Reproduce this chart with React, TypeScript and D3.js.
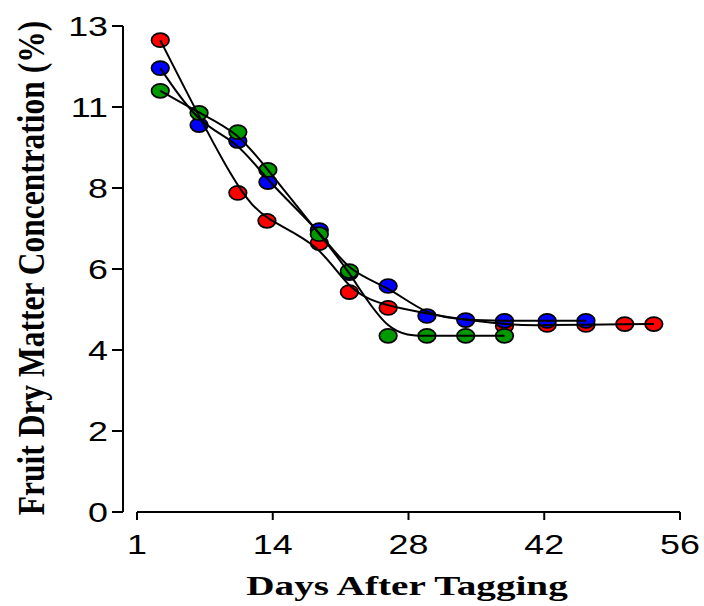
import React from "react";
import * as d3 from "d3";

const xTickValues = [0, 14, 28, 42, 56];
const xTickLabels = ["1", "14", "28", "42", "56"];
const yTickValues = [0, 2, 4, 6, 8, 11, 13];
const yTickLabels = ["0", "2", "4", "6", "8", "11", "13"];

const redDays = [2.4, 10.4, 13.4, 18.8, 21.9, 25.9, 37.9, 42.3, 46.3, 50.3, 53.3];
const redValues = [12.65, 7.88, 7.19, 6.64, 5.43, 5.04, 4.59, 4.62, 4.62, 4.64, 4.64];
const blueDays = [2.4, 6.4, 10.4, 13.5, 18.8, 21.9, 25.9, 29.9, 33.9, 37.9, 42.3, 46.3];
const blueValues = [11.96, 10.33, 9.74, 8.22, 6.96, 5.9, 5.58, 4.84, 4.74, 4.72, 4.72, 4.72];
const greenDays = [2.4, 6.4, 10.4, 13.5, 18.8, 21.9, 25.9, 29.9, 33.9, 37.9];
const greenValues = [11.4, 10.78, 10.07, 8.67, 6.86, 5.95, 4.35, 4.35, 4.35, 4.35];

const seriesList = [
  { name: "red", color: "#ff0000", days: redDays, values: redValues },
  { name: "blue", color: "#0000ff", days: blueDays, values: blueValues },
  { name: "green", color: "#009900", days: greenDays, values: greenValues },
];

export default function App() {
  const W = 704;
  const H = 606;
  const x = d3.scaleLinear().domain([0, 56]).range([137, 680]);
  const y = d3
    .scaleLinear()
    .domain(yTickValues)
    .range([512, 431, 350, 269, 188, 107, 26]);
  const line = d3
    .line<[number, number]>()
    .x((d) => x(d[0]))
    .y((d) => y(d[1]))
    .curve(d3.curveBasis);
  const sx = 1.28;
  const numFont = "'Liberation Sans', Arial, sans-serif";
  const titleFont = "'Liberation Serif', 'Times New Roman', serif";

  return (
    <svg
      width={W}
      height={H}
      style={{ position: "absolute", left: 0, top: 0, background: "#fff" }}
    >
      {/* Y axis */}
      <line x1={123} x2={123} y1={y(13)} y2={y(0)} stroke="#000" strokeWidth={2} />
      {yTickValues.map((v, i) => (
        <g key={"yt" + i}>
          <line x1={112} x2={123} y1={y(v)} y2={y(v)} stroke="#000" strokeWidth={2} />
          <text
            transform={`translate(108,${y(v)}) scale(${sx},1)`}
            textAnchor="end"
            dy="0.36em"
            fontSize={28}
            fontFamily={numFont}
            fill="#000"
          >
            {yTickLabels[i]}
          </text>
        </g>
      ))}
      {/* X axis */}
      <line x1={x(0)} x2={x(56)} y1={512} y2={512} stroke="#000" strokeWidth={2} />
      {xTickValues.map((v, i) => (
        <g key={"xt" + i}>
          <line x1={x(v)} x2={x(v)} y1={512} y2={520} stroke="#000" strokeWidth={2} />
          <text
            transform={`translate(${x(v)},554) scale(${sx},1)`}
            textAnchor="middle"
            fontSize={28}
            fontFamily={numFont}
            fill="#000"
          >
            {xTickLabels[i]}
          </text>
        </g>
      ))}
      {/* Titles */}
      <text
        transform={`translate(407,595) scale(1.4,1)`}
        textAnchor="middle"
        fontSize={28}
        fontWeight="bold"
        fontFamily={titleFont}
        fill="#000"
      >
        Days After Tagging
      </text>
      <text
        transform={`translate(44,268) scale(1.2,1) rotate(-90)`}
        textAnchor="middle"
        fontSize={31.5}
        fontWeight="bold"
        fontFamily={titleFont}
        fill="#000"
      >
        Fruit Dry Matter Concentration (%)
      </text>
      {/* Points */}
      {seriesList.map((s) => (
        <g key={"p" + s.name}>
          {s.days.map((d, i) => (
            <ellipse
              key={i}
              cx={x(d)}
              cy={y(s.values[i])}
              rx={8.8}
              ry={7}
              fill={s.color}
              stroke="#000"
              strokeWidth={1.7}
            />
          ))}
        </g>
      ))}
      {/* Curves */}
      {seriesList.map((s) => (
        <path
          key={"l" + s.name}
          d={line(s.days.map((d, i) => [d, s.values[i]] as [number, number])) || ""}
          fill="none"
          stroke="#000"
          strokeWidth={2}
        />
      ))}
    </svg>
  );
}
